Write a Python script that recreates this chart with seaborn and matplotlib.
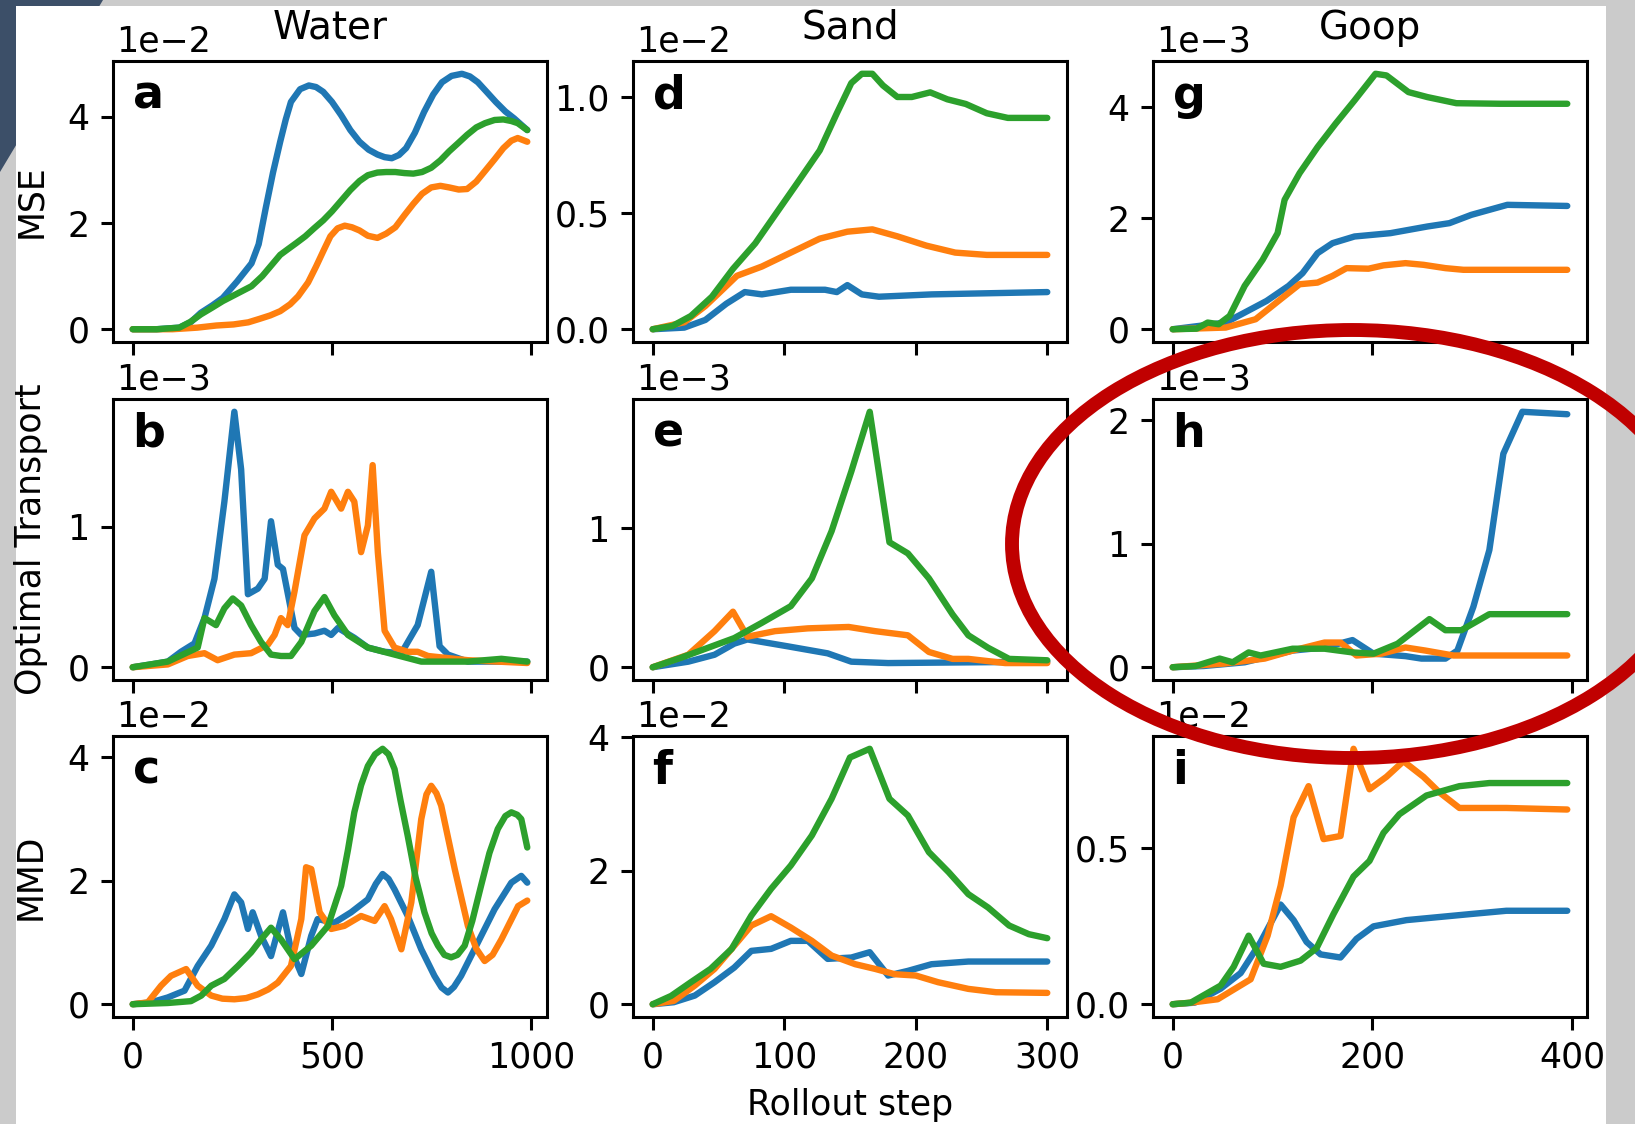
import numpy as np
import pandas as pd
import matplotlib
matplotlib.use("Agg")
import matplotlib.pyplot as plt
import matplotlib.patches as mpatches
import seaborn as sns

# --- data: (rollout step, value) pairs, values in units of the panel exponent ---
# Water
a_blue = [(0, 0), (60, 0), (117, 0.03), (145, 0.13), (171, 0.31), (200, 0.45), (226, 0.59), (262, 0.9),
          (298, 1.24), (316, 1.6), (334, 2.29), (352, 2.95), (370, 3.53), (384, 3.95), (397, 4.28),
          (420, 4.52), (442, 4.59), (460, 4.56), (478, 4.47), (500, 4.28), (523, 4.03), (546, 3.75),
          (569, 3.53), (592, 3.38), (614, 3.29), (632, 3.24), (650, 3.22), (668, 3.28), (686, 3.41),
          (708, 3.7), (731, 4.09), (754, 4.42), (776, 4.65), (800, 4.77), (826, 4.81), (846, 4.76),
          (866, 4.65), (888, 4.47), (911, 4.28), (935, 4.1), (957, 3.97), (975, 3.85), (990, 3.75)]
a_orange = [(0, 0), (100, 0), (162, 0.03), (210, 0.07), (253, 0.09), (290, 0.13), (316, 0.19), (345, 0.26),
            (370, 0.34), (395, 0.47), (415, 0.62), (440, 0.88), (460, 1.18), (480, 1.5), (496, 1.75),
            (514, 1.9), (532, 1.95), (550, 1.92), (569, 1.86), (590, 1.76), (614, 1.72), (636, 1.8),
            (659, 1.92), (682, 2.15), (704, 2.36), (726, 2.55), (749, 2.67), (772, 2.7), (794, 2.67),
            (818, 2.63), (839, 2.64), (862, 2.78), (884, 2.98), (908, 3.2), (930, 3.41), (950, 3.55),
            (966, 3.6), (990, 3.53)]
a_green = [(0, 0), (60, 0), (117, 0.03), (145, 0.14), (171, 0.28), (200, 0.41), (226, 0.53), (262, 0.67),
           (298, 0.81), (325, 1.0), (352, 1.24), (370, 1.4), (388, 1.5), (410, 1.62), (433, 1.75),
           (455, 1.9), (478, 2.05), (500, 2.22), (523, 2.42), (546, 2.62), (569, 2.79), (590, 2.9),
           (614, 2.95), (636, 2.96), (659, 2.96), (682, 2.94), (704, 2.93), (726, 2.96), (749, 3.04),
           (772, 3.18), (794, 3.35), (816, 3.5), (839, 3.66), (862, 3.8), (884, 3.88), (908, 3.94),
           (930, 3.95), (950, 3.92), (966, 3.88), (990, 3.75)]
b_blue = [(0, 0), (46, 0.02), (88, 0.04), (121, 0.11), (155, 0.17), (180, 0.35), (205, 0.63), (230, 1.18),
          (255, 1.82), (272, 1.41), (289, 0.52), (314, 0.56), (331, 0.63), (347, 1.04), (364, 0.73),
          (377, 0.70), (406, 0.28), (423, 0.23), (456, 0.24), (481, 0.26), (498, 0.23), (515, 0.28),
          (556, 0.21), (590, 0.14), (632, 0.11), (674, 0.10), (715, 0.30), (749, 0.68), (770, 0.15),
          (791, 0.09), (841, 0.04), (925, 0.04), (990, 0.04)]
b_orange = [(0, 0), (88, 0.02), (138, 0.08), (180, 0.10), (213, 0.05), (255, 0.09), (297, 0.10), (339, 0.16),
            (356, 0.23), (372, 0.35), (389, 0.30), (406, 0.54), (431, 0.94), (456, 1.06), (481, 1.13),
            (498, 1.25), (523, 1.13), (540, 1.25), (556, 1.18), (573, 0.82), (590, 1.01), (602, 1.44),
            (615, 0.82), (632, 0.26), (657, 0.14), (690, 0.11), (715, 0.11), (741, 0.08), (841, 0.05),
            (990, 0.03)]
b_green = [(0, 0), (88, 0.04), (163, 0.14), (180, 0.35), (209, 0.30), (230, 0.42), (251, 0.49), (272, 0.44),
           (297, 0.30), (322, 0.18), (347, 0.09), (372, 0.08), (397, 0.08), (423, 0.18), (456, 0.40),
           (481, 0.50), (506, 0.37), (540, 0.23), (590, 0.14), (657, 0.09), (724, 0.04), (841, 0.04),
           (925, 0.06), (990, 0.04)]
c_blue = [(0, 0), (46, 0.03), (88, 0.11), (130, 0.22), (163, 0.62), (197, 0.95), (230, 1.38), (255, 1.78),
          (272, 1.65), (289, 1.22), (301, 1.49), (322, 1.11), (347, 0.78), (377, 1.49), (397, 0.89),
          (423, 0.49), (448, 1.11), (464, 1.38), (506, 1.32), (548, 1.49), (590, 1.70), (610, 1.95),
          (627, 2.11), (642, 2.03), (657, 1.86), (690, 1.43), (724, 0.89), (757, 0.46), (775, 0.27),
          (791, 0.19), (806, 0.28), (824, 0.46), (866, 1.0), (908, 1.54), (950, 1.97), (975, 2.08),
          (990, 1.97)]
c_orange = [(0, 0), (38, 0.03), (71, 0.30), (96, 0.46), (134, 0.57), (163, 0.30), (197, 0.14), (225, 0.09),
            (255, 0.08), (285, 0.1), (314, 0.16), (340, 0.24), (364, 0.35), (397, 0.62), (423, 1.38),
            (435, 2.22), (448, 2.19), (469, 1.49), (498, 1.22), (531, 1.27), (573, 1.43), (607, 1.35),
            (632, 1.59), (648, 1.38), (674, 0.89), (699, 1.65), (724, 3.0), (737, 3.4), (749, 3.54),
            (762, 3.42), (774, 3.22), (808, 2.19), (841, 1.27), (862, 0.9), (883, 0.70), (903, 0.8),
            (925, 1.05), (967, 1.59), (990, 1.68)]
c_green = [(0, 0), (88, 0.02), (146, 0.05), (172, 0.14), (197, 0.30), (230, 0.41), (264, 0.62), (297, 0.84),
           (322, 1.05), (347, 1.24), (372, 1.05), (406, 0.73), (448, 0.95), (490, 1.27), (523, 1.92),
           (540, 2.5), (556, 3.11), (573, 3.55), (590, 3.86), (608, 4.05), (627, 4.14), (642, 4.05),
           (657, 3.81), (672, 3.3), (690, 2.73), (710, 2.05), (732, 1.49), (750, 1.15), (766, 0.95),
           (782, 0.8), (799, 0.76), (815, 0.8), (833, 0.95), (852, 1.35), (874, 1.92), (895, 2.45),
           (916, 2.84), (935, 3.05), (950, 3.11), (965, 3.07), (975, 3.0), (990, 2.54)]
# Sand
d_blue = [(0, 0), (24, 0.007), (40, 0.04), (56, 0.11), (70, 0.16), (83, 0.15), (105, 0.17), (131, 0.17),
          (140, 0.16), (148, 0.19), (159, 0.15), (172, 0.14), (212, 0.15), (300, 0.16)]
d_orange = [(0, 0), (24, 0.03), (40, 0.10), (53, 0.17), (64, 0.23), (83, 0.27), (105, 0.33), (127, 0.39),
            (148, 0.42), (167, 0.43), (186, 0.40), (208, 0.36), (230, 0.33), (254, 0.32), (300, 0.32)]
d_green = [(0, 0), (15, 0.014), (29, 0.057), (45, 0.14), (61, 0.26), (78, 0.37), (94, 0.50), (110, 0.63),
           (127, 0.77), (140, 0.93), (151, 1.06), (159, 1.10), (167, 1.10), (175, 1.05), (186, 1.00),
           (197, 1.00), (211, 1.02), (224, 0.99), (238, 0.97), (254, 0.93), (270, 0.91), (300, 0.91)]
e_blue = [(0, 0), (27, 0.04), (47, 0.09), (62, 0.17), (72, 0.20), (103, 0.15), (133, 0.10), (151, 0.04),
          (179, 0.03), (300, 0.04)]
e_orange = [(0, 0), (27, 0.09), (47, 0.26), (61, 0.40), (72, 0.22), (93, 0.26), (118, 0.28), (149, 0.29),
            (169, 0.26), (194, 0.23), (210, 0.11), (228, 0.06), (240, 0.06), (268, 0.03), (300, 0.03)]
e_green = [(0, 0), (22, 0.07), (42, 0.14), (62, 0.21), (83, 0.32), (105, 0.44), (121, 0.64), (136, 0.98),
           (151, 1.41), (165, 1.84), (180, 0.90), (194, 0.82), (210, 0.64), (228, 0.38), (240, 0.23),
           (255, 0.14), (271, 0.06), (300, 0.05)]
f_blue = [(0, 0), (16, 0.03), (32, 0.13), (47, 0.33), (62, 0.55), (75, 0.80), (90, 0.83), (105, 0.95),
          (118, 0.95), (133, 0.68), (151, 0.70), (165, 0.78), (179, 0.43), (194, 0.50), (212, 0.60),
          (240, 0.64), (300, 0.64)]
f_orange = [(0, 0), (16, 0.05), (32, 0.28), (47, 0.53), (60, 0.83), (75, 1.18), (90, 1.32), (105, 1.15),
            (121, 0.95), (136, 0.73), (154, 0.60), (169, 0.53), (184, 0.45), (200, 0.43), (217, 0.33),
            (240, 0.23), (261, 0.18), (300, 0.17)]
f_green = [(0, 0), (14, 0.125), (29, 0.33), (44, 0.53), (60, 0.83), (75, 1.33), (90, 1.73), (105, 2.08),
           (121, 2.53), (136, 3.08), (150, 3.70), (165, 3.83), (180, 3.08), (194, 2.83), (210, 2.28),
           (225, 1.98), (240, 1.65), (255, 1.45), (271, 1.18), (286, 1.05), (300, 0.99)]
# Goop
g_blue = [(0, 0), (53, 0.12), (72, 0.30), (94, 0.51), (116, 0.78), (130, 1.01), (145, 1.37), (160, 1.55),
          (182, 1.67), (218, 1.73), (255, 1.85), (277, 1.91), (299, 2.06), (317, 2.15), (335, 2.24),
          (395, 2.22)]
g_orange = [(0, 0), (53, 0.03), (83, 0.18), (108, 0.54), (127, 0.81), (145, 0.84), (160, 0.96), (174, 1.10),
            (196, 1.09), (211, 1.15), (233, 1.19), (251, 1.16), (273, 1.10), (291, 1.07), (395, 1.07)]
g_green = [(0, 0), (24, 0.01), (35, 0.12), (46, 0.09), (57, 0.24), (72, 0.78), (90, 1.25), (105, 1.73),
           (112, 2.33), (127, 2.81), (145, 3.28), (163, 3.70), (182, 4.12), (203, 4.60), (214, 4.57),
           (236, 4.27), (255, 4.18), (284, 4.07), (328, 4.06), (395, 4.06)]
h_blue = [(0, 0), (31, 0.01), (72, 0.04), (120, 0.135), (152, 0.16), (180, 0.22), (201, 0.11), (233, 0.09),
          (249, 0.07), (273, 0.07), (285, 0.135), (301, 0.49), (317, 0.95), (331, 1.73), (350, 2.07),
          (395, 2.05)]
h_orange = [(0, 0), (52, 0.03), (92, 0.07), (120, 0.135), (152, 0.20), (168, 0.20), (184, 0.095),
            (209, 0.11), (233, 0.16), (253, 0.135), (281, 0.095), (395, 0.095)]
h_green = [(0, 0), (23, 0.01), (47, 0.07), (60, 0.04), (76, 0.12), (88, 0.095), (120, 0.15), (152, 0.15),
           (180, 0.12), (201, 0.11), (225, 0.19), (257, 0.39), (273, 0.30), (289, 0.30), (317, 0.43),
           (395, 0.43)]
i_blue = [(0, 0), (22, 0.005), (48, 0.05), (68, 0.10), (88, 0.20), (108, 0.32), (121, 0.27), (134, 0.20),
          (148, 0.16), (168, 0.15), (184, 0.21), (201, 0.25), (234, 0.27), (267, 0.28), (300, 0.29),
          (334, 0.30), (395, 0.30)]
i_orange = [(0, 0), (18, 0.005), (45, 0.016), (78, 0.08), (95, 0.22), (108, 0.38), (121, 0.60), (136, 0.70),
            (151, 0.53), (168, 0.54), (181, 0.82), (197, 0.69), (214, 0.73), (231, 0.78), (251, 0.73),
            (267, 0.68), (287, 0.63), (334, 0.63), (395, 0.625)]
i_green = [(0, 0), (18, 0.005), (48, 0.06), (61, 0.12), (76, 0.22), (91, 0.13), (108, 0.12), (128, 0.14),
           (144, 0.18), (161, 0.29), (181, 0.41), (197, 0.46), (211, 0.55), (227, 0.61), (254, 0.67),
           (287, 0.70), (317, 0.71), (395, 0.71)]

materials = ["Water", "Sand", "Goop"]
metrics = ["MSE", "Optimal Transport", "MMD"]
panel_letters = ["a", "b", "c", "d", "e", "f", "g", "h", "i"]
exponents = ["1e\u22122", "1e\u22123", "1e\u22122", "1e\u22122", "1e\u22123", "1e\u22122",
             "1e\u22123", "1e\u22123", "1e\u22122"]
xticks = [[0, 500, 1000], [0, 100, 200, 300], [0, 200, 400]]
yticks = [[0, 2, 4], [0, 1], [0, 2, 4], [0, 0.5, 1.0], [0, 1], [0, 2, 4], [0, 2, 4], [0, 1, 2], [0, 0.5]]
panels = [(a_blue, a_orange, a_green), (b_blue, b_orange, b_green), (c_blue, c_orange, c_green),
          (d_blue, d_orange, d_green), (e_blue, e_orange, e_green), (f_blue, f_orange, f_green),
          (g_blue, g_orange, g_green), (h_blue, h_orange, h_green), (i_blue, i_orange, i_green)]
series = ["blue", "orange", "green"]
palette = dict(zip(series, sns.color_palette("tab10", 3)))

sns.set_theme(style="ticks")
plt.rcParams.update({
    "font.family": ["DejaVu Sans"],
    "axes.edgecolor": "black", "axes.linewidth": 2.2,
    "xtick.color": "black", "ytick.color": "black",
    "xtick.major.size": 9, "ytick.major.size": 9,
    "xtick.major.width": 2.2, "ytick.major.width": 2.2,
    "xtick.major.pad": 8, "ytick.major.pad": 8,
    "xtick.labelsize": 25, "ytick.labelsize": 25,
    "text.color": "black",
})

W, H = 1635, 1124
fig = plt.figure(figsize=(W / 100, H / 100), dpi=100, facecolor="#cbcbcb")

# screenshot backdrop
fig.add_artist(mpatches.Polygon([(0, 1), (103 / W, 1), (0, 1 - 172 / H)], closed=True,
                                transform=fig.transFigure, facecolor="#3c4f68", edgecolor="none", zorder=-3))
fig.add_artist(mpatches.Rectangle((16 / W, 0), 1590 / W, (H - 6) / H, transform=fig.transFigure,
                                  facecolor="white", edgecolor="none", zorder=-2))

lefts = [113, 633, 1153]
tops = [61, 399, 736]
aw, ah = 434, 281

for col in range(3):
    for row in range(3):
        k = col * 3 + row
        ax = fig.add_axes([lefts[col] / W, 1 - (tops[row] + ah) / H, aw / W, ah / H])
        frames = []
        for name, pts in zip(series, panels[k]):
            frames.append(pd.DataFrame(pts, columns=["step", "value"]).assign(series=name))
        df = pd.concat(frames)
        sns.lineplot(data=df, x="step", y="value", hue="series", palette=palette, ax=ax,
                     legend=False, linewidth=4.6)
        ax.set_xticks(xticks[col])
        ax.set_yticks(yticks[k])
        if k in (3, 8):
            ax.set_yticklabels([f"{t:.1f}" for t in yticks[k]])
        else:
            ax.set_yticklabels([f"{t:g}" for t in yticks[k]])
        if row < 2:
            ax.set_xticklabels([])
        ax.set_xlabel("")
        ax.set_ylabel("")
        ax.annotate(exponents[k], xy=(0, 1), xycoords="axes fraction", xytext=(2, 2),
                    textcoords="offset points", ha="left", va="bottom", fontsize=25)
        ax.text(0.045, 0.955, panel_letters[k], transform=ax.transAxes, ha="left", va="top",
                fontsize=33, fontweight="bold")
        if row == 0:
            ax.set_title(materials[col], fontsize=28, pad=16)

for row in range(3):
    fig.text(31 / W, 1 - (tops[row] + ah / 2) / H, metrics[row], rotation=90,
             ha="center", va="center", fontsize=25)
fig.text(850 / W, 1 - 1105 / H, "Rollout step", ha="center", va="center", fontsize=25)

# red highlight ellipse
fig.add_artist(mpatches.Ellipse((1352 / W, 1 - 544 / H), 680 / W, 428 / H, transform=fig.transFigure,
                                fill=False, edgecolor="#c00000", linewidth=10, zorder=10))

fig.savefig("out.png", dpi=100, facecolor=fig.get_facecolor())
